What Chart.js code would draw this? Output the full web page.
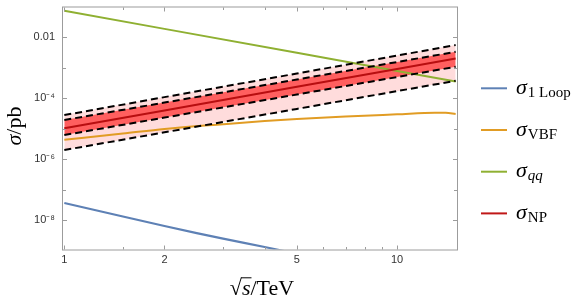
<!DOCTYPE html>
<html><head><meta charset="utf-8">
<script src="https://cdn.jsdelivr.net/npm/chart.js@4"></script>
<style>html,body{margin:0;padding:0;background:#fff}#wrap{width:581px;height:304px;position:relative}</style>
</head><body><div id="wrap"><canvas id="c" width="581" height="304"></canvas></div>
<script>
// ---- data (sqrt(s) in TeV, sigma in pb) ----
const sBand = [1, 2, 5, 10, 15];
const npCentral = [1.04e-5, 4.01e-5, 2.40e-4, 9.27e-4, 2.05e-3];
const npOuterUp = [2.83e-5, 1.10e-4, 6.55e-4, 2.54e-3, 5.60e-3];
const npInnerUp = [1.95e-5, 7.28e-5, 4.17e-4, 1.56e-3, 3.37e-3];
const npInnerLo = [6.27e-6, 2.34e-5, 1.34e-4, 5.02e-4, 1.09e-3];
const npOuterLo = [2.02e-6, 7.71e-6, 4.52e-5, 1.73e-4, 3.78e-4];

const sQQ = [1, 2, 5, 10, 15];
const sigmaQQ = [0.0757, 0.0191, 3.13e-3, 7.98e-4, 3.58e-4];

const sLoop = [1, 1.5, 2, 2.5, 3, 3.5, 4, 5];
const sigmaLoop = [3.69e-8, 1.33e-8, 6.5e-9, 3.8e-9, 2.5e-9, 1.78e-9, 1.33e-9, 8.0e-10];

const sVBF = [1, 1.5, 2, 3, 4, 5, 7, 10, 13, 14, 15];
const sigmaVBF = [4.36e-6, 7.0e-6, 9.9e-6, 1.42e-5, 1.80e-5, 2.10e-5, 2.53e-5, 2.99e-5, 3.37e-5, 3.37e-5, 3.06e-5];

const xTickValues = [1, 1.5, 2, 3, 4, 5, 6, 7, 8, 9, 10];
const xTickLabels = {1: '1', 2: '2', 5: '5', 10: '10'};
const yTickValues = [1e-8, 1e-7, 1e-6, 1e-5, 1e-4, 1e-3, 1e-2];
const yTickLabels = {'-2': '0.01', '-4': '10⁻⁴', '-6': '10⁻⁶', '-8': '10⁻⁸'};

const legendSubs = ['1 Loop', 'VBF', 'qq', 'NP'];
const legendSubItalic = [false, false, true, false];
const legendColors = ['#5E81B5', '#E19C24', '#8FB032', '#C01818'];

const pts = (xs, ys) => xs.map((x, i) => ({x, y: ys[i]}));

const dashStyle = {borderColor: '#000', borderWidth: 2, borderDash: [7, 4], pointRadius: 0, tension: 0, clip: 0};

const datasets = [
  {label: 'NP', data: pts(sBand, npCentral), borderColor: '#B80E10', borderWidth: 2, pointRadius: 0, fill: false, clip: 0},
  Object.assign({label: 'innerUp', data: pts(sBand, npInnerUp), fill: {target: 2}, backgroundColor: '#FF5F5F'}, dashStyle),
  Object.assign({label: 'innerLo', data: pts(sBand, npInnerLo), fill: false}, dashStyle),
  Object.assign({label: 'outerUp', data: pts(sBand, npOuterUp), fill: {target: 4}, backgroundColor: '#FFDCDC'}, dashStyle),
  Object.assign({label: 'outerLo', data: pts(sBand, npOuterLo), fill: false}, dashStyle),
  {label: 'qq', data: pts(sQQ, sigmaQQ), borderColor: legendColors[2], borderWidth: 2, pointRadius: 0, fill: false, clip: 0},
  {label: 'VBF', data: pts(sVBF, sigmaVBF), borderColor: legendColors[1], borderWidth: 2, pointRadius: 0, fill: false, cubicInterpolationMode: 'monotone', clip: 0},
  {label: '1 Loop', data: pts(sLoop, sigmaLoop), borderColor: legendColors[0], borderWidth: 2.2, pointRadius: 0, fill: false, tension: 0, clip: 0}
];

const FRAME = '#9c9c9c';
const framePlugin = {
  id: 'frame',
  afterDatasetsDraw(chart) {
    const {ctx, chartArea: a, scales: {x, y}} = chart;
    ctx.save();
    ctx.strokeStyle = FRAME; ctx.lineWidth = 1;
    ctx.strokeRect(a.left - 0.5, a.top - 0.5, a.right - a.left + 1, a.bottom - a.top + 1);
    ctx.beginPath();
    xTickValues.forEach(v => {
      const p = Math.round(x.getPixelForValue(v)) + 0.5;
      const L = xTickLabels[v] ? 4 : 2.5;
      ctx.moveTo(p, a.bottom); ctx.lineTo(p, a.bottom - L);
      ctx.moveTo(p, a.top); ctx.lineTo(p, a.top + L);
    });
    yTickValues.forEach(v => {
      const p = Math.round(y.getPixelForValue(v)) + 0.5;
      const L = yTickLabels[Math.round(Math.log10(v))] ? 4 : 3;
      ctx.moveTo(a.left, p); ctx.lineTo(a.left + L, p);
      ctx.moveTo(a.right, p); ctx.lineTo(a.right - L, p);
    });
    ctx.stroke();
    ctx.restore();
  }
};

const SERIF = '"Liberation Serif", "Times New Roman", serif';
const textPlugin = {
  id: 'richText',
  afterDraw(chart) {
    const ctx = chart.ctx;
    const a = chart.chartArea;
    ctx.save();
    ctx.fillStyle = '#000';
    ctx.textAlign = 'left';
    ctx.textBaseline = 'alphabetic';
    // legend
    legendSubs.forEach((sub, i) => {
      const y = 88.3 + i * 41.7;
      ctx.strokeStyle = legendColors[i]; ctx.lineWidth = 2;
      ctx.beginPath(); ctx.moveTo(481, y); ctx.lineTo(507, y); ctx.stroke();
      ctx.font = 'italic 22px ' + SERIF;
      ctx.fillText('σ', 516, y + 5.7);
      const w = ctx.measureText('σ').width;
      ctx.font = (legendSubItalic[i] ? 'italic ' : '') + '15px ' + SERIF;
      ctx.fillText(sub, 516 + w + 1, y + 8.5);
    });
    // x title: √s/TeV
    const parts = [['√', '22px '], ['s', 'italic 22px '], ['/TeV', '22px ']];
    let total = 0;
    parts.forEach(p => { ctx.font = p[1] + SERIF; total += ctx.measureText(p[0]).width; });
    let cx = (a.left + a.right) / 2 + 2 - total / 2;
    const base = 295;
    ctx.font = parts[0][1] + SERIF;
    const rm = ctx.measureText('√');
    ctx.fillText('√', cx, base);
    const barY = base - rm.actualBoundingBoxAscent + 0.8;
    cx += rm.width;
    ctx.font = parts[1][1] + SERIF;
    const sw = ctx.measureText('s').width;
    ctx.fillText('s', cx, base);
    ctx.strokeStyle = '#000'; ctx.lineWidth = 1;
    ctx.beginPath(); ctx.moveTo(cx - 1, barY); ctx.lineTo(cx + sw + 1, barY); ctx.stroke();
    cx += sw;
    ctx.font = parts[2][1] + SERIF;
    ctx.fillText('/TeV', cx, base);
    // y title: σ/pb rotated
    ctx.save();
    ctx.translate(21, 126);
    ctx.rotate(-Math.PI / 2);
    ctx.font = 'italic 22px ' + SERIF;
    const w1 = ctx.measureText('σ').width;
    ctx.font = '22px ' + SERIF;
    const w2 = ctx.measureText('/pb').width;
    let tx = -(w1 + w2) / 2;
    ctx.font = 'italic 22px ' + SERIF;
    ctx.fillText('σ', tx, 0);
    ctx.font = '22px ' + SERIF;
    ctx.fillText('/pb', tx + w1, 0);
    ctx.restore();
    ctx.restore();
  }
};

const TICKFONT = {family: '"Liberation Sans", Arial, sans-serif', size: 11};

new Chart(document.getElementById('c'), {
  type: 'line',
  data: {datasets},
  options: {
    responsive: false,
    animation: false,
    events: [],
    layout: {padding: {top: 7.5, right: 124, bottom: 0, left: 0}},
    plugins: {legend: {display: false}, tooltip: {enabled: false}, filler: {drawTime: 'beforeDatasetsDraw'}},
    scales: {
      x: {
        type: 'logarithmic', min: 0.991, max: 15.14,
        grid: {display: false, drawTicks: false},
        border: {display: false},
        afterBuildTicks: s => { s.ticks = xTickValues.map(v => ({value: v})); },
        afterFit: s => { s.height = 54.5; s.paddingLeft = 0; s.paddingRight = 0; },
        ticks: {autoSkip: false, maxRotation: 0, padding: 4, color: '#333', font: TICKFONT,
          callback: v => xTickLabels[v] || ''}
      },
      y: {
        type: 'logarithmic', min: 1.1e-9, max: 0.096,
        grid: {display: false, drawTicks: false},
        border: {display: false},
        afterBuildTicks: s => { s.ticks = yTickValues.map(v => ({value: v})); },
        afterFit: s => { s.width = 63; s.paddingTop = 0; s.paddingBottom = 0; },
        ticks: {autoSkip: false, padding: 8, color: '#333', font: TICKFONT,
          callback: v => yTickLabels[Math.round(Math.log10(v))] || ''}
      }
    }
  },
  plugins: [framePlugin, textPlugin]
});
</script>
</body></html>
